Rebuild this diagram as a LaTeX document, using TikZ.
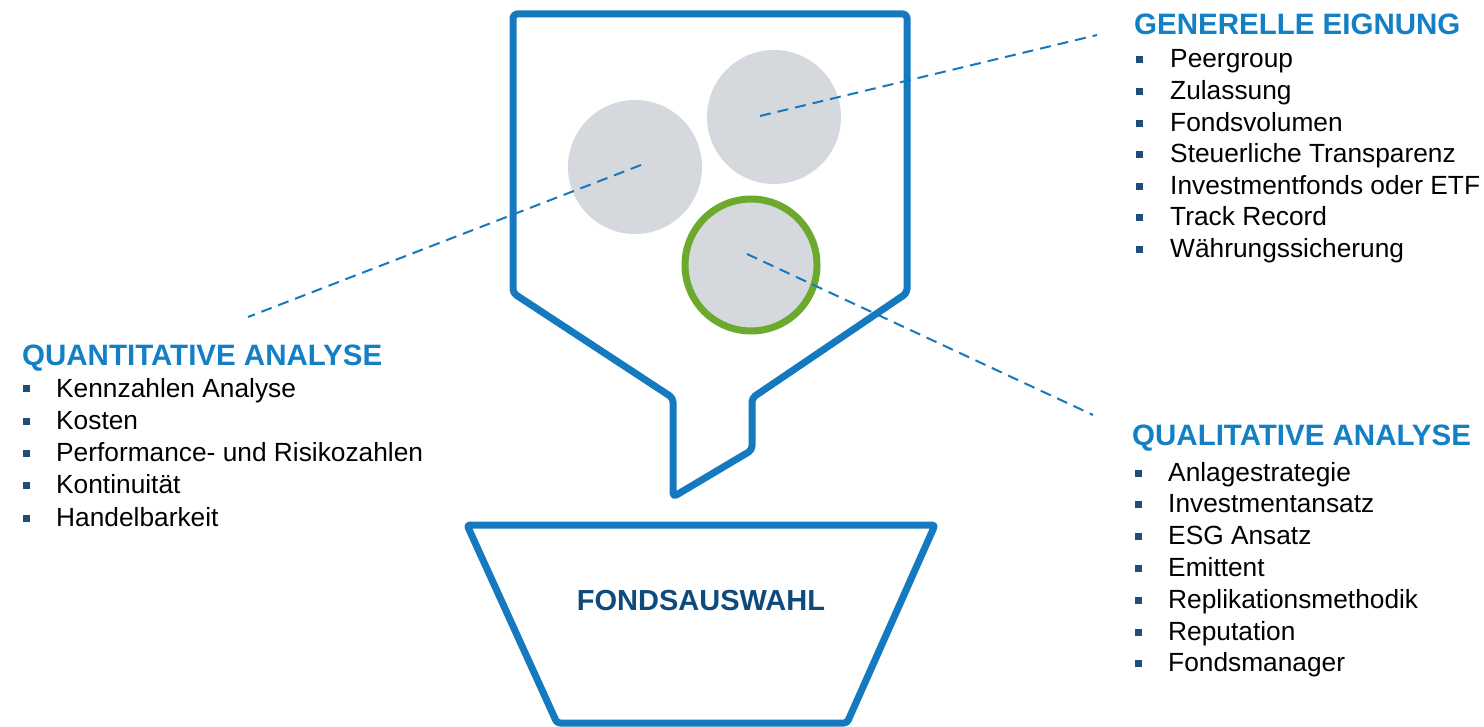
\documentclass[tikz,border=0pt]{standalone}
\usepackage{fontspec}
\setmainfont{Liberation Sans}
\definecolor{fblue}{HTML}{1479BF}
\definecolor{hblue}{HTML}{1380C6}
\definecolor{dblue}{HTML}{0E4A7B}
\definecolor{bul}{HTML}{1D4F7A}
\definecolor{cgray}{HTML}{D5D9DE}
\definecolor{cgreen}{HTML}{6BAA2C}
\begin{document}
\begin{tikzpicture}[x=1pt,y=-1pt,
  outline/.style={draw=fblue,line width=7pt,rounded corners=4pt,line join=round},
  ball/.style={circle,fill=cgray,minimum size=134pt,inner sep=0pt},
  leader/.style={draw=fblue,line width=2pt,dash pattern=on 11pt off 7pt},
  head/.style={anchor=base west,inner sep=0pt,text=hblue,font=\fontsize{29.5}{31}\selectfont\bfseries},
  item/.style={anchor=base west,inner sep=0pt,font=\fontsize{26.3}{28}\selectfont},
  bulletbox/.style={fill=bul,minimum size=7pt,inner sep=0pt}]
\useasboundingbox (0,0) rectangle (1484,727);
\fill[white] (0,0) rectangle (1484,727);

% circles
\node[ball] (c1) at (635,167) {};
\node[ball] (c2) at (774,117) {};
\node[ball,draw=cgreen,line width=7pt,minimum size=132pt] (c3) at (751,265) {};

% funnel
\draw[outline] (513,14) -- (907,14) -- (907,293) -- (752,398) -- (752,450) -- (673,497) -- (673,398) -- (513,293) -- cycle;

% bucket
\draw[outline,rounded corners=3pt] (467,525) -- (935,525) -- (847,723) -- (557,723) -- cycle;
\node[anchor=base,inner sep=0pt,text=dblue,font=\fontsize{29}{31}\selectfont\bfseries] (fa) at (701,610) {FONDSAUSWAHL};

% leader endpoints
\coordinate (p1) at (641,165);
\coordinate (q1) at (248,317);
\coordinate (p2) at (760,116);
\coordinate (q2) at (1097,35);
\coordinate (p3) at (747,254);
\coordinate (q3) at (1093,415);
\draw[leader] (p1) -- (q1);
\draw[leader] (p2) -- (q2);
\draw[leader] (p3) -- (q3);

% Generelle Eignung
\node[head] (hg) at (1134,35) {GENERELLE EIGNUNG};
\foreach \t [count=\i from 0] in {Peergroup,Zulassung,Fondsvolumen,Steuerliche Transparenz,Investmentfonds oder ETF,Track Record,Währungssicherung}{
  \node[item] (g\i) at (1170,68+31.6*\i) {\t};
  \node[bulletbox] (gb\i) at (1139.5,60+31.6*\i) {};
}

% Quantitative Analyse
\node[head] (hqn) at (22,366) {QUANTITATIVE ANALYSE};
\foreach \t [count=\i from 0] in {Kennzahlen Analyse,Kosten,Performance- und Risikozahlen,Kontinuität,Handelbarkeit}{
  \node[item] (n\i) at (56,397+32.25*\i) {\t};
  \node[bulletbox] (nb\i) at (26,389+32.25*\i) {};
}

% Qualitative Analyse
\node[head] (hql) at (1132,446) {QUALITATIVE ANALYSE};
\foreach \t [count=\i from 0] in {Anlagestrategie,Investmentansatz,ESG Ansatz,Emittent,Replikationsmethodik,Reputation,Fondsmanager}{
  \node[item] (l\i) at (1168,481+31.8*\i) {\t};
  \node[bulletbox] (lb\i) at (1138.5,473+31.8*\i) {};
}
\end{tikzpicture}
\end{document}
